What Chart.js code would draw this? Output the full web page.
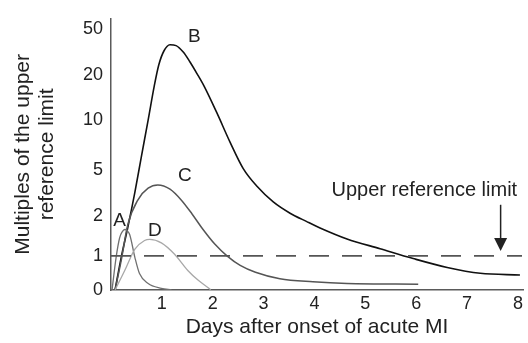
<!DOCTYPE html>
<html>
<head>
<meta charset="utf-8">
<title>Cardiac markers after acute MI</title>
<script src="https://cdn.jsdelivr.net/npm/chart.js@4.4.0/dist/chart.umd.min.js"></script>
<style>
    html, body { margin: 0; padding: 0; background: #fff; }
    #wrap { position: relative; width: 528px; height: 343px; }
</style>
</head>
<body>
<div id="wrap"><canvas id="markerChart"></canvas></div>
<script>
// days after onset / multiples of the upper reference limit, per marker
var aDays   = [0.02, 0.10, 0.17, 0.22, 0.27, 0.32, 0.37, 0.47, 0.56, 0.73, 0.99, 1.19];
var aValues = [0, 0.95, 1.46, 1.61, 1.67, 1.64, 1.53, 0.95, 0.48, 0.19, 0.05, 0];

var bDays   = [0.08, 0.20, 0.33, 0.47, 0.60, 0.73, 0.85, 0.94, 1.04, 1.16, 1.28, 1.42, 1.55, 1.69, 1.83, 2.08, 2.34, 2.60, 2.87, 3.19, 3.52, 3.85, 4.11, 4.64, 5.29, 5.94, 6.61, 7.26, 8.04];
var bValues = [0, 0.95, 1.72, 3.56, 6.4, 10.1, 17.5, 26.4, 35.4, 39.5, 38.9, 34.7, 28.4, 20.7, 17.5, 11.7, 7.8, 5.1, 3.93, 2.93, 2.21, 1.87, 1.71, 1.43, 1.18, 0.92, 0.66, 0.49, 0.44];

var cDays   = [0.08, 0.20, 0.33, 0.53, 0.73, 0.92, 1.16, 1.38, 1.59, 1.81, 2.04, 2.28, 2.54, 2.84, 3.32, 3.97, 4.64, 6.04];
var cValues = [0, 0.86, 1.79, 3.07, 3.81, 4.02, 3.75, 3.06, 2.18, 1.67, 1.30, 1.0, 0.72, 0.52, 0.33, 0.24, 0.19, 0.17];

var dDays   = [0.08, 0.27, 0.47, 0.66, 0.76, 0.99, 1.25, 1.51, 1.71, 1.96];
var dValues = [0, 0.57, 1.17, 1.39, 1.42, 1.33, 1.04, 0.57, 0.29, 0.01];

var xTicks = [1, 2, 3, 4, 5, 6, 7, 8];
var yTicks = [0, 1, 2, 5, 10, 20, 50];
var referenceLimit = 1;

var FONT = '"Liberation Sans", Arial, Helvetica, sans-serif';
var xMax = 8.1;

// the y axis is stretched unevenly: each tick value gets its own height
var yStops = [0, 0.126, 0.271, 0.444, 0.625, 0.794, 0.964];

function toFraction(v) {
    var n = yTicks.length - 1;
    for (var i = 1; i <= n; i++) {
        if (v <= yTicks[i]) {
            var t = (v - yTicks[i - 1]) / (yTicks[i] - yTicks[i - 1]);
            return yStops[i - 1] + t * (yStops[i] - yStops[i - 1]);
        }
    }
    return yStops[n] + (v - yTicks[n]) / (yTicks[n] - yTicks[n - 1]) * (yStops[n] - yStops[n - 1]);
}

function fromFraction(f) {
    var n = yTicks.length - 1;
    for (var i = 1; i <= n; i++) {
        if (f <= yStops[i]) {
            var t = (f - yStops[i - 1]) / (yStops[i] - yStops[i - 1]);
            return yTicks[i - 1] + t * (yTicks[i] - yTicks[i - 1]);
        }
    }
    return yTicks[n] + (f - yStops[n]) / (yStops[n] - yStops[n - 1]) * (yTicks[n] - yTicks[n - 1]);
}

class MultipleScale extends Chart.LinearScale {
    getPixelForValue(value) {
        return this.getPixelForDecimal(toFraction(value));
    }
    getValueForPixel(pixel) {
        return fromFraction(this.getDecimalForPixel(pixel));
    }
}
MultipleScale.id = 'multiple';
Chart.register(MultipleScale);

function points(days, values) {
    return days.map(function(d, i) { return { x: d, y: values[i] }; });
}

function curve(days, values, color, width) {
    return {
        data: points(days, values),
        borderColor: color,
        borderWidth: width,
        pointRadius: 0,
        fill: false,
        cubicInterpolationMode: 'monotone'
    };
}

// letters next to each curve and the reference note, in axis units
var notes = {
    letters: [
        { text: 'A', x: 0.17, y: 1.88 },
        { text: 'B', x: 1.64, y: 44.4 },
        { text: 'C', x: 1.45, y: 4.6 },
        { text: 'D', x: 0.86, y: 1.63 }
    ],
    refText: { text: 'Upper reference limit', x: 6.16, y: 3.66 },
    arrow: { x: 7.66, from: 2.75, to: 1.12 }
};

var notesPlugin = {
    id: 'notes',
    afterDatasetsDraw: function(chart) {
        var ctx = chart.ctx;
        var xs = chart.scales.x, ys = chart.scales.y;
        ctx.save();
        ctx.fillStyle = '#222';
        ctx.textAlign = 'center';
        ctx.textBaseline = 'middle';
        ctx.font = '19px ' + FONT;
        notes.letters.forEach(function(l) {
            ctx.fillText(l.text, xs.getPixelForValue(l.x), ys.getPixelForValue(l.y));
        });
        ctx.font = '20px ' + FONT;
        ctx.fillText(notes.refText.text, xs.getPixelForValue(notes.refText.x), ys.getPixelForValue(notes.refText.y));

        // arrow pointing down at the dashed line
        var ax = xs.getPixelForValue(notes.arrow.x);
        var top = ys.getPixelForValue(notes.arrow.from);
        var tip = ys.getPixelForValue(notes.arrow.to);
        var head = 13;
        ctx.strokeStyle = '#222';
        ctx.lineWidth = 1.5;
        ctx.beginPath();
        ctx.moveTo(ax, top);
        ctx.lineTo(ax, tip - head + 1);
        ctx.stroke();
        ctx.beginPath();
        ctx.moveTo(ax - head / 2, tip - head);
        ctx.lineTo(ax + head / 2, tip - head);
        ctx.lineTo(ax, tip);
        ctx.closePath();
        ctx.fill();
        ctx.restore();
    }
};

var ctx = document.getElementById('markerChart').getContext('2d');
var chart = new Chart(ctx, {
    type: 'line',
    data: {
        datasets: [
            {
                data: [{ x: 0, y: referenceLimit }, { x: 8.08, y: referenceLimit }],
                borderColor: '#555',
                borderWidth: 1.6,
                borderDash: [20, 13],
                pointRadius: 0,
                fill: false
            },
            curve(dDays, dValues, '#a8a8a8', 1.3),
            curve(aDays, aValues, '#707070', 1.3),
            curve(cDays, cValues, '#555', 1.5),
            curve(bDays, bValues, '#111', 1.6)
        ]
    },
    options: {
        responsive: true,
        maintainAspectRatio: false,
        animation: false,
        layout: { padding: { top: 13, right: 5, left: 0, bottom: 0 } },
        plugins: {
            legend: { display: false },
            tooltip: { enabled: false }
        },
        scales: {
            x: {
                type: 'linear',
                min: 0,
                max: xMax,
                afterBuildTicks: function(scale) {
                    scale.ticks = xTicks.map(function(v) { return { value: v }; });
                },
                afterFit: function(scale) { scale.height = 53; },
                grid: { display: true, drawOnChartArea: false, drawTicks: false },
                border: { color: '#5a5a5a', width: 1.5 },
                ticks: {
                    padding: 3,
                    color: '#222',
                    font: { family: FONT, size: 18 },
                    maxRotation: 0
                },
                title: {
                    display: true,
                    text: 'Days after onset of acute MI',
                    color: '#222',
                    font: { family: FONT, size: 21 },
                    padding: { top: 0, bottom: 3 }
                }
            },
            y: {
                type: 'multiple',
                min: 0,
                max: 50,
                afterBuildTicks: function(scale) {
                    scale.ticks = yTicks.map(function(v) { return { value: v }; });
                },
                afterFit: function(scale) { scale.width = 111; },
                grid: { display: true, drawOnChartArea: false, drawTicks: false },
                border: { color: '#5a5a5a', width: 1.5 },
                ticks: {
                    padding: 8,
                    color: '#222',
                    font: { family: FONT, size: 18 },
                    callback: function(v) { return String(v); }
                },
                title: {
                    display: true,
                    text: ['Multiples of the upper', 'reference limit'],
                    color: '#222',
                    font: { family: FONT, size: 21, lineHeight: 1.143 },
                    padding: { top: 11, bottom: 0 }
                }
            }
        }
    },
    plugins: [notesPlugin]
});
</script>
</body>
</html>
